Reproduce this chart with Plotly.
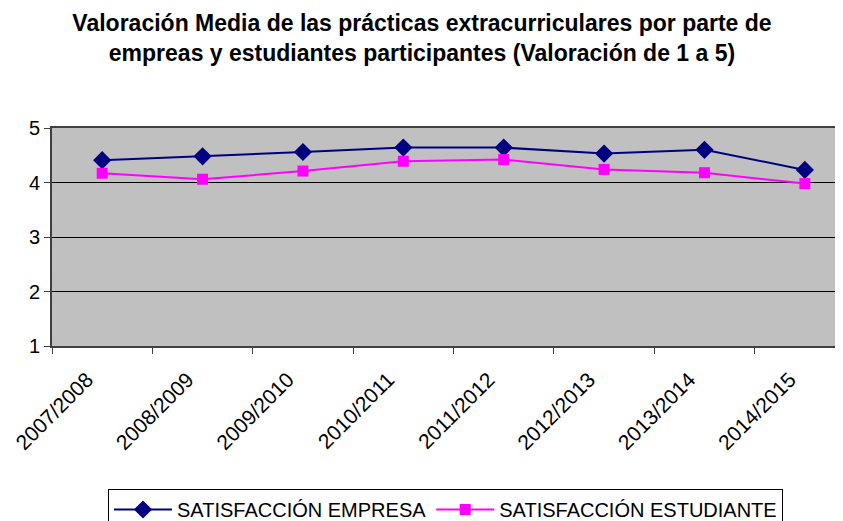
import plotly.graph_objects as go

categories = ["2007/2008", "2008/2009", "2009/2010", "2010/2011",
              "2011/2012", "2012/2013", "2013/2014", "2014/2015"]
empresa = [4.41, 4.48, 4.56, 4.64, 4.64, 4.53, 4.60, 4.23]
estudiante = [4.17, 4.06, 4.21, 4.39, 4.42, 4.24, 4.18, 3.98]
y_ticks = [1, 2, 3, 4, 5]

font = "Liberation Sans, Arial, sans-serif"

# The page body adds an 8px offset; the figure is sized to fill the window from there.
W, H = 835, 513
OFF = 8

fig = go.Figure()
fig.add_trace(go.Scatter(
    x=categories, y=empresa, name="SATISFACCIÓN EMPRESA",
    mode="lines+markers",
    line=dict(color="#000080", width=2),
    marker=dict(symbol="diamond", size=14, color="#000080"),
))
fig.add_trace(go.Scatter(
    x=categories, y=estudiante, name="SATISFACCIÓN ESTUDIANTE",
    mode="lines+markers",
    line=dict(color="#FF00FF", width=2),
    marker=dict(symbol="square", size=11, color="#FF00FF"),
))

fig.update_layout(
    width=W, height=H,
    margin=dict(l=52 - OFF, r=0, t=128 - OFF, b=H - (346 - OFF), autoexpand=False),
    paper_bgcolor="white",
    plot_bgcolor="#C0C0C0",
    font=dict(family=font, size=16, color="black"),
    title=dict(
        text="<b>Valoración Media de las prácticas extracurriculares por parte de<br>empreas y estudiantes participantes (Valoración de 1 a 5)</b>",
        xref="container", x=(422 - OFF) / W, xanchor="center",
        yref="container", y=1 - 23 / H, yanchor="middle",
        font=dict(family=font, size=23, color="black"),
    ),
    showlegend=True,
    legend=dict(
        orientation="h",
        xref="container", x=(108 - OFF) / W, xanchor="left",
        yref="container", y=1 - (489 - OFF) / H, yanchor="top",
        bordercolor="black", borderwidth=1,
        bgcolor="white",
        font=dict(family=font, size=20, color="black"),
        itemwidth=58,
    ),
)

fig.update_xaxes(
    type="category",
    range=[-0.5, 7.38],
    tickson="boundaries",
    ticks="outside", ticklen=6, tickcolor="#404040",
    tickangle=-45,
    ticklabelshift=-15, ticklabelstandoff=11,
    showgrid=False,
    showline=True, linecolor="#404040", linewidth=2,
    mirror=True,
    automargin=False,
    tickfont=dict(family=font, size=21, color="black"),
)
fig.update_yaxes(
    range=[1, 5],
    tickvals=y_ticks,
    ticks="outside", ticklen=6, tickcolor="#404040",
    showgrid=True, gridcolor="black", gridwidth=1,
    showline=True, linecolor="#404040", linewidth=2,
    zeroline=False,
    automargin=False,
    tickfont=dict(family=font, size=20, color="black"),
)

fig.write_html("out.html")
